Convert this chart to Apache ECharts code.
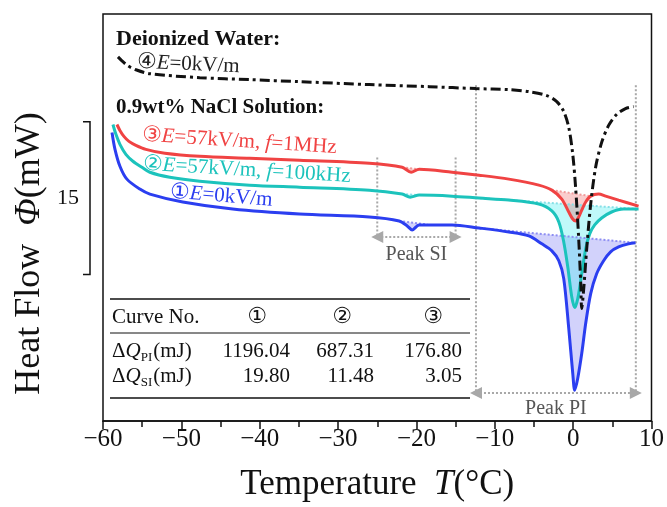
<!DOCTYPE html>
<html>
<head>
<meta charset="utf-8">
<script src="https://cdn.jsdelivr.net/npm/echarts@6/dist/echarts.min.js"></script>
<style>
  html, body { margin: 0; padding: 0; background: #fff; }
  #chart { width: 667px; height: 507px; }
</style>
</head>
<body>
<div id="chart"></div>
<script>
// axis ranges (T in °C, Φ in mW, Φ has no printed ticks, only a 15 mW scale bar)
var xMin = -60, xMax = 10, xStep = 10;
var yMin = 0, yMax = 40;
var scaleFrom = 14.4, scaleLen = 15;

// ① E=0kV/m  (NaCl)
var curve1 = [[-58.85,28.36],[-58.47,26.70],[-57.84,25.04],[-56.95,23.77],[-55.30,22.79],[-54.02,22.30],[-49.82,21.52],
  [-43.45,20.83],[-34.93,20.34],[-26.02,20.05],[-22.2,19.66],[-21.18,19.17],[-20.55,18.78],[-19.65,19.27],[-15.45,19.27],
  [-12.02,18.97],[-8.2,18.58],[-5.65,18.19],[-4.0,17.41],[-2.72,16.72],[-1.83,15.75],[-1.2,13.99],[-0.56,9.10],[-0.05,4.69],
  [0.2,3.03],[0.59,4.21],[1.1,6.65],[1.6,9.58],[2.24,12.52],[3.0,14.47],[3.89,15.75],[4.78,16.63],[5.8,17.11],[7.07,17.41],[7.96,17.51]];
// ② E=57kV/m, f=100kHz
var curve2 = [[-58.73,29.14],[-58.35,28.17],[-57.84,27.19],[-57.08,26.21],[-56.18,25.53],[-55.04,24.94],[-54.02,24.45],[-51.48,23.96],
  [-47.65,23.57],[-41.29,23.18],[-34.93,22.98],[-26.02,22.69],[-21.82,22.30],[-20.8,22.0],[-19.65,22.2],[-15.45,22.10],[-12.02,21.91],
  [-8.2,21.71],[-4.38,21.32],[-2.72,20.64],[-1.83,19.56],[-1.2,17.60],[-0.69,15.16],[-0.18,12.22],[0.2,11.15],[0.59,12.03],[1.1,14.47],
  [1.6,16.92],[2.11,18.39],[2.75,19.27],[3.64,19.95],[4.91,20.54],[6.43,20.83],[8.35,20.83]];
// ③ E=57kV/m, f=1MHz
var curve3 = [[-58.22,29.14],[-57.84,28.56],[-57.33,27.97],[-56.69,27.48],[-55.80,27.09],[-54.53,26.70],[-52.11,26.31],[-47.65,26.01],
  [-41.29,25.82],[-34.93,25.62],[-26.02,25.33],[-21.82,24.94],[-20.67,24.45],[-19.65,24.74],[-15.45,24.45],[-12.02,24.16],[-8.2,23.77],
  [-4.38,23.18],[-2.72,22.69],[-1.45,21.81],[-0.56,20.54],[-0.05,19.85],[0.33,19.66],[0.71,20.05],[1.1,20.73],[1.6,21.52],[2.24,22.10],
  [3.25,22.30],[4.15,22.10],[5.8,21.71],[8.35,21.12]];
// ④ deionized water, E=0kV/m
var curve4 = [[-58.09,35.79],[-57.58,35.40],[-56.82,34.91],[-55.80,34.52],[-54.02,34.13],[-47.65,33.74],[-41.29,33.55],[-34.93,33.35],
  [-26.02,33.06],[-18.38,32.86],[-12.40,32.67],[-8.2,32.57],[-5.65,32.37],[-3.36,31.98],[-2.09,31.39],[-1.2,30.42],[-0.56,28.85],
  [-0.05,26.21],[0.33,22.79],[0.71,17.90],[0.97,13.50],[1.09,11.05],[1.35,13.0],[1.73,16.92],[2.24,21.32],[2.87,24.94],[3.64,27.38],
  [4.53,29.05],[5.54,30.12],[6.68,30.71],[7.71,30.90]];

// integration baselines (start, end)
var basePI1 = [[-12.4,18.99],[7.96,17.51]];
var basePI2 = [[-12.4,21.93],[8.35,20.83]];
var basePI3 = [[-2.72,22.69],[2.24,22.10]];
var baseSI1 = [[-22.2,19.66],[-18.6,19.30]];
var baseSI2 = [[-21.82,22.30],[-19.65,22.2]];
var baseSI3 = [[-21.82,24.94],[-19.65,24.74]];

// peak ranges and guide heights
var peakPI = [-12.4, 8], piTop = 33.0, piArrow = 2.74;
var peakSI = [-25, -15], siTop = 25.9, siArrow = 18.09;

// table
var tableHeads = ['①', '②', '③'];
var qPI = [1196.04, 687.31, 176.80];
var qSI = [19.80, 11.48, 3.05];

var SERIF = "'Liberation Serif', 'Times New Roman', serif";
var SYM = "'DejaVu Sans', sans-serif";
var RED = '#f04343', CYAN = '#1cc3bc', BLUE = '#2b3ef0', INK = '#111';

var chart = echarts.init(document.getElementById('chart'));

function curve(data, color, width, type, z) {
  return { type: 'line', data: data, smooth: 0.3, symbol: 'none', silent: true, z: z || 3,
    lineStyle: { color: color, width: width, type: type || 'solid' } };
}
function baseline(pts, color) {
  return { type: 'line', data: pts, symbol: 'none', silent: true, z: 2,
    lineStyle: { color: color, width: 2, type: 'dotted' } };
}
function fill(data, base, color) {
  var pts = [base[0]];
  data.forEach(function (p) { if (p[0] > base[0][0] && p[0] < base[1][0]) pts.push(p); });
  pts.push(base[1]);
  return { type: 'custom', data: [[base[0][0], base[0][1]]], silent: true, z: 1,
    renderItem: function (params, api) {
      return { type: 'polygon', shape: { points: pts.map(function (p) { return api.coord(p); }) },
        style: { fill: color } };
    } };
}
function guide(x, top, bottom) {
  return { type: 'line', data: [[x, top], [x, bottom]], symbol: 'none', silent: true, z: 2,
    lineStyle: { color: '#a8a8a8', width: 2, type: 'dotted' } };
}
function arrow(range, y) {
  return { type: 'line', data: [], silent: true,
    markLine: { silent: true, symbol: ['triangle', 'triangle'], symbolSize: 12, label: { show: false },
      lineStyle: { color: '#a8a8a8', width: 2, type: 'dotted' }, animation: false,
      data: [[{ coord: [range[0], y] }, { coord: [range[1], y] }]] } };
}

var option = {
  animation: false,
  grid: { left: 103, right: 14, top: 14, bottom: 84, show: true, borderColor: INK, borderWidth: 1.5 },
  xAxis: {
    type: 'value', min: xMin, max: xMax, interval: xStep,
    name: '{n|Temperature  }{i|T}{n|(°C)}', nameLocation: 'middle', nameGap: 46,
    nameTextStyle: { rich: {
      n: { fontFamily: SERIF, fontSize: 35, color: INK },
      i: { fontFamily: SERIF, fontSize: 35, fontStyle: 'italic', color: INK } } },
    axisLine: { show: true, lineStyle: { color: INK, width: 1.5 } },
    axisTick: { show: true, inside: false, length: 8, lineStyle: { color: INK, width: 1.5 } },
    minorTick: { show: true, splitNumber: 2, length: 6, lineStyle: { color: INK, width: 1.5 } },
    axisLabel: { fontFamily: SERIF, fontSize: 25, color: INK, margin: 6,
      formatter: function (v) { return String(v).replace('-', '\u2212'); } },
    splitLine: { show: false }
  },
  yAxis: {
    type: 'value', min: yMin, max: yMax,
    name: '{n|Heat Flow  }{i|Φ}{n|(mW)}', nameLocation: 'middle', nameGap: 55,
    nameTextStyle: { padding: [0, 72, 0, 0], rich: {
      n: { fontFamily: SERIF, fontSize: 36, color: INK },
      i: { fontFamily: SERIF, fontSize: 36, fontStyle: 'italic', color: INK } } },
    axisLine: { show: false }, axisTick: { show: false }, axisLabel: { show: false }, splitLine: { show: false }
  },
  series: [
    fill(curve1, basePI1, 'rgba(95,95,240,0.28)'),
    fill(curve2, basePI2, 'rgba(60,235,240,0.32)'),
    fill(curve3, basePI3, 'rgba(240,90,90,0.3)'),
    fill(curve1, baseSI1, 'rgba(95,95,240,0.28)'),
    fill(curve2, baseSI2, 'rgba(60,235,240,0.32)'),
    fill(curve3, baseSI3, 'rgba(240,90,90,0.3)'),
    baseline(basePI1, '#8d8df2'), baseline(basePI2, '#86dfe6'), baseline(basePI3, '#f29a9a'),
    baseline(baseSI1, '#8d8df2'), baseline(baseSI2, '#86dfe6'), baseline(baseSI3, '#f29a9a'),
    guide(peakPI[0], piTop, piArrow), guide(peakPI[1], piTop, piArrow),
    guide(peakSI[0], siTop, siArrow), guide(peakSI[1], siTop, siArrow),
    arrow(peakPI, piArrow), arrow(peakSI, siArrow),
    curve(curve1, BLUE, 3),
    curve(curve2, CYAN, 3),
    curve(curve3, RED, 3),
    curve(curve4, INK, 3, [10, 4, 3, 4], 4)
  ]
};
chart.setOption(option);

// annotations
function rich(color, size) {
  return {
    n: { fontFamily: SERIF, fontSize: size, fill: color, color: color },
    i: { fontFamily: SERIF, fontSize: size, fontStyle: 'italic', fill: color, color: color },
    c: { fontFamily: SYM, fontSize: size + 1, fill: color, color: color },
    b: { fontFamily: SERIF, fontSize: size, fontWeight: 'bold', fill: color, color: color },
    s: { fontFamily: SERIF, fontSize: size - 8, fill: color, color: color, padding: [14, 1, 0, 0] }
  };
}
function text(x, y, str, color, size, align, rot) {
  return { type: 'text', x: x, y: y, rotation: rot || 0, silent: true, z: 10,
    style: { text: str, rich: rich(color, size), fill: color, align: align || 'left', verticalAlign: 'middle',
      textAlign: align || 'left', textVerticalAlign: 'middle' } };
}
function hline(x0, x1, y, w) {
  return { type: 'line', silent: true, z: 10, shape: { x1: x0, y1: y, x2: x1, y2: y }, style: { stroke: INK, lineWidth: w } };
}
function px(x, y) { return chart.convertToPixel({ gridIndex: 0 }, [x, y]); }

var g = [];
// 15 mW scale bar
var bx = px(xMin, 0)[0] - 13;
var by0 = px(xMin, scaleFrom)[1], by1 = px(xMin, scaleFrom + scaleLen)[1];
g.push({ type: 'polyline', silent: true, shape: { points: [[bx - 7, by1], [bx, by1], [bx, by0], [bx - 7, by0]] },
  style: { stroke: INK, lineWidth: 1.5, fill: null } });
g.push(text(bx - 22, (by0 + by1) / 2, '{n|' + scaleLen + '}', INK, 22, 'center'));

// curve labels
g.push(text(116, 39, '{b|Deionized Water:}', INK, 22));
g.push(text(137, 62, '{c|④}{i|E}{n|=0kV/m}', '#222', 21, 'left', -0.045));
g.push(text(116, 108, '{b|0.9wt% NaCl Solution:}', INK, 21));
g.push(text(142, 135, '{c|③}{i|E}{n|=57kV/m, }{i|f}{n|=1MHz}', RED, 21, 'left', -0.065));
g.push(text(143, 164, '{c|②}{i|E}{n|=57kV/m, }{i|f}{n|=100kHz}', CYAN, 21, 'left', -0.06));
g.push(text(170, 192, '{c|①}{i|E}{n|=0kV/m}', BLUE, 21, 'left', -0.08));

// peak labels
var siMid = px((peakSI[0] + peakSI[1]) / 2, siArrow);
g.push(text(siMid[0], siMid[1] + 18, '{n|Peak SI}', '#555', 20, 'center'));
var piMid = px((peakPI[0] + peakPI[1]) / 2, piArrow);
g.push(text(piMid[0], piMid[1] + 16, '{n|Peak PI}', '#555', 20, 'center'));

// table
var tl = 110, tr = 470, colC = [257, 342, 433], colR = [290, 374, 462];
g.push(hline(tl, tr, 299, 1.5));
g.push(hline(tl, tr, 333, 1));
g.push(hline(tl, tr, 398, 1.5));
g.push(text(112, 317, '{n|Curve No.}', INK, 21));
tableHeads.forEach(function (h, i) { g.push(text(colC[i], 317, '{c|' + h + '}', INK, 21, 'center')); });
g.push(text(112, 351, '{n|Δ}{i|Q}{s|PI}{n|(mJ)}', INK, 21));
qPI.forEach(function (v, i) { g.push(text(colR[i], 351, '{n|' + v.toFixed(2) + '}', INK, 21, 'right')); });
g.push(text(112, 376, '{n|Δ}{i|Q}{s|SI}{n|(mJ)}', INK, 21));
qSI.forEach(function (v, i) { g.push(text(colR[i], 376, '{n|' + v.toFixed(2) + '}', INK, 21, 'right')); });

chart.setOption({ graphic: { elements: g } });
</script>
</body>
</html>
